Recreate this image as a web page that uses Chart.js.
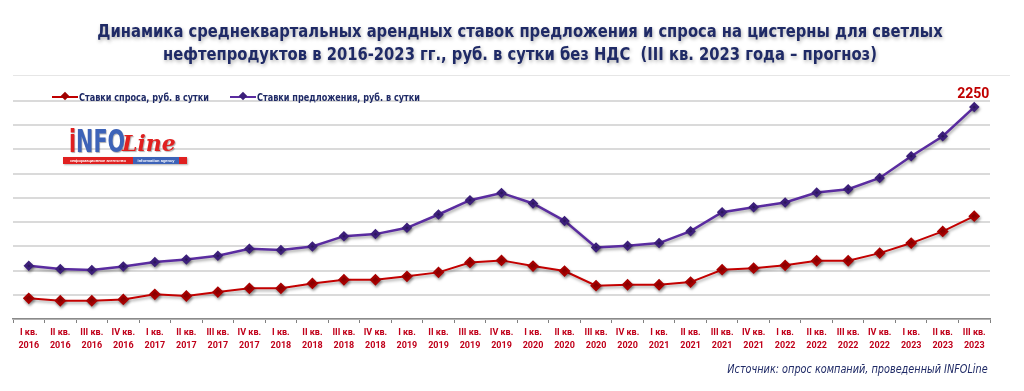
<!DOCTYPE html>
<html>
<head>
<meta charset="utf-8">
<script src="https://cdn.jsdelivr.net/npm/chart.js@4.4.0/dist/chart.umd.min.js"></script>
<style>
  body { margin: 0; background: #fff; }
  #wrap { position: relative; width: 1024px; height: 391px; overflow: hidden; }
  #title { position: absolute; left: 0; top: 20px; width: 1040px; text-align: center;
    font: bold 17px "DejaVu Sans Condensed", "Roboto", sans-serif;
    color: #1f2a66; line-height: 23px; text-shadow: 1px 2px 4px rgba(0,0,0,0.3);
    transform: scaleX(0.965); transform-origin: 520px 0; }
  #sep { position: absolute; left: 13px; top: 75px; width: 997px; height: 1px; background: #e6e6e6; }
  #legend { position: absolute; left: 52px; top: 90px;
    font: bold 11px "DejaVu Sans Condensed", sans-serif; color: #1f2a66; }
  .lg { position: absolute; white-space: nowrap; top: 0; }
  .lg i { display: inline-block; position: relative; width: 26px; height: 2px; vertical-align: middle; margin-right: 1px; }
  .lg i b { position: absolute; left: 10px; top: -3px; width: 6px; height: 6px; transform: rotate(45deg); }
  .lg span { display: inline-block; transform: scaleX(0.82); transform-origin: 0 0; vertical-align: middle; }
  #logo { position: absolute; left: 63px; top: 122px; width: 125px; height: 44px; }
  #logo .word { position: absolute; left: 6px; top: 0; font: bold 32px "DejaVu Sans Condensed", sans-serif;
    color: #3d63b8; transform: scaleX(0.72); transform-origin: 0 0; text-shadow: 1px 1px 1px rgba(0,0,0,0.3); }
  #logo .line { position: absolute; left: 59px; top: 8px; font: italic bold 22px "DejaVu Serif", serif; color: #e02020;
    text-shadow: 1px 1px 1px rgba(0,0,0,0.3); }
  #logo .bar { position: absolute; left: 0; top: 35px; width: 124px; height: 7px; font: bold 4px sans-serif; color: #fff;
    box-shadow: 1px 1px 2px rgba(0,0,0,0.3); }
  #logo .bar span { position: absolute; top: 0; height: 7px; line-height: 7px; text-align: center; white-space: nowrap; overflow: hidden; }
  #source { position: absolute; right: 36px; top: 361px;
    font: italic 13px "DejaVu Sans Condensed", sans-serif; color: #1f2a66;
    transform: scaleX(0.83); transform-origin: 100% 0; }
</style>
</head>
<body>
<div id="wrap">
  <canvas id="chart" width="1024" height="391"></canvas>
  <div id="title">Динамика среднеквартальных арендных ставок предложения и спроса на цистерны для светлых<br>нефтепродуктов в 2016-2023 гг., руб. в сутки без НДС&nbsp; (III кв. 2023 года – прогноз)</div>
  <div id="sep"></div>
  <div id="legend">
    <div class="lg" style="left:0"><i style="background:#c00000"><b style="background:#a00000"></b></i><span>Ставки спроса, руб. в сутки</span></div>
    <div class="lg" style="left:178px"><i style="background:#5a2ca0"><b style="background:#3c1f7a"></b></i><span>Ставки предложения, руб. в сутки</span></div>
  </div>
  <div id="logo">
    <div class="word"><span style="color:#e02020">i</span>NFO</div>
    <div class="line">Line</div>
    <div class="bar"><span style="left:0;width:70px;background:#e02020">информационное агентство</span><span style="left:70px;width:46px;background:#3d63b8">information agency</span><span style="left:116px;width:8px;background:#e02020"></span></div>
  </div>
  <div id="source">Источник: опрос компаний, проведенный INFOLine</div>
</div>
<script>
var quarters = ['I кв.','II кв.','III кв.','IV кв.'];
var years = ['2016','2017','2018','2019','2020','2021','2022','2023'];
var labels = [];
for (var y = 0; y < years.length; y++) {
  for (var q = 0; q < 4; q++) {
    if (years[y] == '2023' && q == 3) break;
    labels.push([quarters[q], years[y]]);
  }
}

var demand = [671, 651, 651, 662, 704, 690, 722, 753, 753, 794, 824, 824, 852, 885, 967, 984,
  937, 896, 775, 783, 783, 805, 907, 920, 943, 981, 981, 1044, 1127, 1223, 1349];
var offer = [939, 912, 904, 934, 970, 992, 1022, 1080, 1069, 1099, 1184, 1201, 1253, 1363, 1481, 1541,
  1454, 1310, 1091, 1104, 1127, 1225, 1382, 1423, 1462, 1544, 1572, 1665, 1844, 2009, 2250];

var labelFont = { family: 'Roboto, "DejaVu Sans Condensed", sans-serif', size: 9, weight: 'bold', lineHeight: 1.45 };

var shadow = {
  id: 'shadow',
  beforeDatasetDraw: function(chart) {
    var c = chart.ctx;
    c.save();
    c.shadowColor = 'rgba(0,0,0,0.35)';
    c.shadowBlur = 3;
    c.shadowOffsetX = 1;
    c.shadowOffsetY = 2;
  },
  afterDatasetDraw: function(chart) {
    chart.ctx.restore();
  }
};

var lastLabel = {
  id: 'lastLabel',
  afterDatasetsDraw: function(chart) {
    var meta = chart.getDatasetMeta(1);
    var pt = meta.data[meta.data.length - 1];
    var c = chart.ctx;
    c.save();
    c.font = 'bold 14px Roboto, "DejaVu Sans Condensed", sans-serif';
    c.fillStyle = '#c00000';
    c.textAlign = 'center';
    c.textBaseline = 'bottom';
    c.fillText(offer[offer.length - 1], pt.x - 1, pt.y - 6);
    c.restore();
  }
};

var ctx = document.getElementById('chart');
var myChart = new Chart(ctx, {
  type: 'line',
  data: {
    labels: labels,
    datasets: [
      {
        label: 'Ставки спроса, руб. в сутки',
        data: demand,
        borderColor: '#c40000',
        borderWidth: 2,
        pointStyle: 'rectRot',
        pointRadius: 4.5,
        pointBackgroundColor: '#a80000',
        pointBorderColor: '#a80000',
        tension: 0
      },
      {
        label: 'Ставки предложения, руб. в сутки',
        data: offer,
        borderColor: '#5a2ca0',
        borderWidth: 2.5,
        pointStyle: 'rectRot',
        pointRadius: 3.5,
        pointBackgroundColor: '#3c1f7a',
        pointBorderColor: '#3c1f7a',
        tension: 0
      }
    ]
  },
  options: {
    responsive: false,
    animation: false,
    layout: { padding: { left: 13, right: 34, top: 101, bottom: 31 } },
    plugins: {
      legend: { display: false },
      tooltip: { enabled: false }
    },
    scales: {
      x: {
        offset: true,
        afterFit: function(scale) { scale.height = 41; },
        grid: { drawOnChartArea: false, tickLength: 4, color: '#808080', offset: true },
        border: { display: true, color: '#8a8a8a', width: 1.5 },
        ticks: { color: '#c0001a', font: labelFont, maxRotation: 0, autoSkip: false, padding: 3 }
      },
      y: {
        min: 500,
        max: 2300,
        afterFit: function(scale) { scale.width = 0; },
        ticks: { display: false, stepSize: 200 },
        grid: { color: '#dadada', lineWidth: 2, drawTicks: false },
        border: { display: false }
      }
    }
  },
  plugins: [shadow, lastLabel]
});
</script>
</body>
</html>
